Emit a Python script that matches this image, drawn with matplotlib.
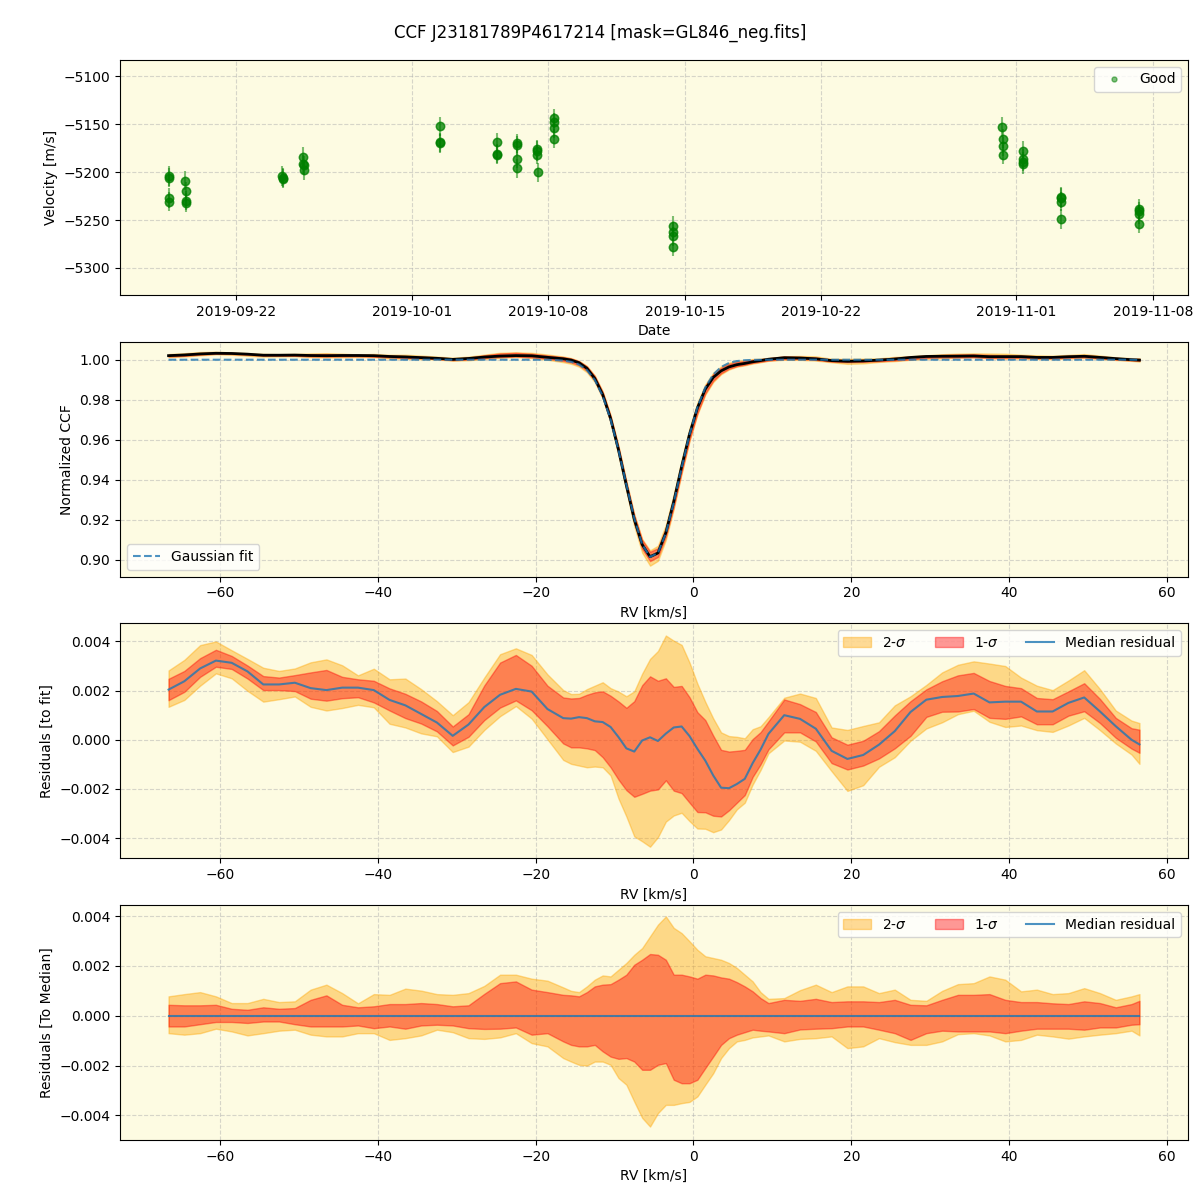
import numpy as np
import pandas as pd
import matplotlib
matplotlib.use("Agg")
import matplotlib.pyplot as plt

# --- RV time series (Good points) ---
obs_time = [
    '2019-09-18 12:30', '2019-09-18 12:40', '2019-09-18 12:50', '2019-09-18 13:00',
    '2019-09-19 09:20', '2019-09-19 09:30', '2019-09-19 09:40', '2019-09-19 09:50',
    '2019-09-24 08:45', '2019-09-24 08:55', '2019-09-24 09:05',
    '2019-09-25 10:20', '2019-09-25 10:30', '2019-09-25 10:40', '2019-09-25 10:50',
    '2019-10-02 10:40', '2019-10-02 10:50', '2019-10-02 11:00',
    '2019-10-05 08:15', '2019-10-05 08:25', '2019-10-05 08:35',
    '2019-10-06 09:00', '2019-10-06 09:10', '2019-10-06 09:20', '2019-10-06 09:30',
    '2019-10-07 10:10', '2019-10-07 10:20', '2019-10-07 10:30', '2019-10-07 10:40',
    '2019-10-08 07:00', '2019-10-08 07:10', '2019-10-08 07:20', '2019-10-08 07:30',
    '2019-10-14 09:00', '2019-10-14 09:10', '2019-10-14 09:20', '2019-10-14 09:30',
    '2019-10-31 06:50', '2019-10-31 07:00', '2019-10-31 07:10', '2019-10-31 07:20',
    '2019-11-01 08:15', '2019-11-01 08:25', '2019-11-01 08:35', '2019-11-01 08:45',
    '2019-11-03 07:00', '2019-11-03 07:10', '2019-11-03 07:20', '2019-11-03 07:30',
    '2019-11-07 07:00', '2019-11-07 07:10', '2019-11-07 07:20', '2019-11-07 07:30',
]
velocity = [
    -5204, -5206, -5227, -5231,
    -5209, -5220, -5230, -5232,
    -5204, -5206, -5207,
    -5184, -5192, -5193, -5198,
    -5152, -5169, -5170,
    -5169, -5181, -5182,
    -5170, -5172, -5186, -5196,
    -5176, -5178, -5182, -5200,
    -5144, -5148, -5154, -5165,
    -5256, -5262, -5267, -5278,
    -5153, -5165, -5173, -5182,
    -5178, -5186, -5189, -5192,
    -5226, -5227, -5231, -5249,
    -5238, -5241, -5244, -5254,
]
vel_err = 10.0

# --- Gaussian fit parameters of the CCF ---
fit_center = -5.24
fit_depth = 0.099
fit_sigma = 3.4

# --- residual grid (km/s) and values (x1e-3) ---
rv = [-66.5, -64.5, -62.5, -60.5, -58.5, -56.5, -54.5, -52.5, -50.5, -48.5,
      -46.5, -44.5, -42.5, -40.5, -38.5, -36.5, -34.5, -32.5, -30.5, -28.5,
      -26.5, -24.5, -22.5, -20.5, -18.5, -16.5, -15.5, -14.5, -13.5, -12.5,
      -11.5, -10.5, -9.5, -8.5, -7.5, -6.5, -5.5, -4.5, -3.5, -2.5,
      -1.5, -0.5, 0.5, 1.5, 2.5, 3.5, 4.5, 5.5, 6.5, 7.5,
      8.5, 9.5, 11.5, 13.5, 15.5, 17.5, 19.5, 21.5, 23.5, 25.5,
      27.5, 29.5, 31.5, 33.5, 35.5, 37.5, 39.5, 41.5, 43.5, 45.5,
      47.5, 49.5, 51.5, 53.5, 55.5, 56.5]
median_res = [2.04, 2.38, 2.90, 3.22, 3.13, 2.78, 2.25, 2.25, 2.32, 2.10,
              2.02, 2.12, 2.12, 2.02, 1.62, 1.40, 1.05, 0.70, 0.16, 0.62,
              1.33, 1.83, 2.07, 1.96, 1.25, 0.88, 0.86, 0.92, 0.88, 0.75,
              0.72, 0.52, 0.11, -0.35, -0.48, -0.03, 0.10, -0.05, 0.25, 0.50,
              0.54, 0.15, -0.37, -0.85, -1.45, -1.95, -1.97, -1.80, -1.59, -0.95,
              -0.40, 0.24, 1.00, 0.85, 0.45, -0.45, -0.78, -0.62, -0.20, 0.35,
              1.13, 1.63, 1.74, 1.78, 1.88, 1.52, 1.55, 1.55, 1.15, 1.15,
              1.50, 1.72, 1.15, 0.55, 0.00, -0.19]
up_2sig = [0.78, 0.87, 0.95, 0.78, 0.51, 0.51, 0.68, 0.55, 0.58, 1.05,
           1.25, 0.91, 0.50, 0.87, 0.84, 1.09, 1.01, 0.87, 0.84, 0.91,
           1.20, 1.65, 1.65, 1.49, 1.41, 1.14, 1.00, 0.95, 1.18, 1.45,
           1.62, 1.58, 1.85, 2.12, 2.45, 2.72, 3.19, 3.66, 3.99, 3.53,
           3.32, 2.99, 2.65, 2.39, 2.32, 2.25, 2.12, 1.92, 1.65, 1.38,
           0.95, 0.68, 0.71, 1.03, 1.25, 0.95, 1.18, 1.18, 0.91, 1.05,
           0.64, 0.60, 1.00, 1.27, 1.31, 1.58, 1.45, 0.98, 1.05, 0.87,
           0.91, 1.11, 0.91, 0.64, 0.78, 0.87]
up_1sig = [0.44, 0.42, 0.42, 0.44, 0.28, 0.24, 0.34, 0.28, 0.31, 0.64,
           0.82, 0.44, 0.34, 0.38, 0.47, 0.47, 0.51, 0.47, 0.38, 0.42,
           0.88, 1.31, 1.38, 1.05, 0.95, 0.84, 0.82, 0.78, 0.95, 1.18,
           1.25, 1.27, 1.45, 1.65, 2.05, 2.25, 2.48, 2.45, 2.25, 1.65,
           1.65, 1.58, 1.49, 1.65, 1.62, 1.54, 1.49, 1.35, 1.18, 0.98,
           0.71, 0.51, 0.64, 0.60, 0.68, 0.55, 0.58, 0.58, 0.55, 0.64,
           0.44, 0.42, 0.64, 0.84, 0.84, 0.87, 0.64, 0.55, 0.55, 0.50,
           0.47, 0.58, 0.51, 0.34, 0.47, 0.60]
lo_1sig = [-0.43, -0.43, -0.34, -0.25, -0.25, -0.29, -0.23, -0.23, -0.34, -0.43,
           -0.43, -0.43, -0.39, -0.50, -0.43, -0.52, -0.39, -0.36, -0.39, -0.50,
           -0.53, -0.52, -0.47, -0.76, -0.70, -1.03, -1.17, -1.23, -1.23, -1.17,
           -1.43, -1.64, -1.73, -1.70, -1.84, -2.17, -2.17, -1.97, -1.90, -2.57,
           -2.71, -2.71, -2.57, -2.10, -1.64, -1.17, -0.90, -0.76, -0.66, -0.56,
           -0.60, -0.63, -0.70, -0.55, -0.52, -0.50, -0.43, -0.43, -0.56, -0.70,
           -0.97, -0.70, -0.60, -0.63, -0.63, -0.63, -0.70, -0.60, -0.52, -0.52,
           -0.52, -0.56, -0.47, -0.47, -0.36, -0.34]
lo_2sig = [-0.70, -0.76, -0.70, -0.52, -0.63, -0.79, -0.70, -0.60, -0.56, -0.76,
           -0.83, -0.83, -0.70, -0.70, -0.97, -0.90, -0.79, -0.56, -0.66, -0.90,
           -0.93, -0.87, -0.70, -1.10, -1.23, -1.70, -1.84, -1.97, -2.00, -1.84,
           -1.84, -1.97, -2.50, -2.77, -3.45, -4.10, -4.45, -3.91, -3.58, -3.58,
           -3.51, -3.46, -3.24, -2.77, -2.31, -1.70, -1.30, -1.03, -0.97, -0.87,
           -0.83, -0.79, -1.03, -0.93, -0.90, -0.83, -1.30, -1.23, -0.90, -1.06,
           -1.17, -1.17, -1.03, -0.74, -0.70, -0.79, -1.03, -0.97, -0.76, -0.83,
           -0.92, -0.83, -0.76, -0.70, -0.60, -0.79]

bg = '#fdfbe2'

t = pd.to_datetime(obs_time)
x = np.array(rv)
med = np.array(median_res) * 1e-3
u2 = np.array(up_2sig) * 1e-3
u1 = np.array(up_1sig) * 1e-3
l1 = np.array(lo_1sig) * 1e-3
l2 = np.array(lo_2sig) * 1e-3
gauss = 1.0 - fit_depth * np.exp(-0.5 * ((x - fit_center) / fit_sigma) ** 2)

fig, axes = plt.subplots(4, 1, figsize=(12, 12), dpi=100)
plt.subplots_adjust(left=0.1, right=0.99, top=0.95, bottom=0.05, hspace=0.2)
fig.suptitle("CCF J23181789P4617214 [mask=GL846_neg.fits]", fontsize=12, y=0.98)

for ax in axes:
    ax.set_facecolor(bg)
    ax.grid(True, linestyle='--', alpha=0.5)
    ax.set_axisbelow(True)

# panel 1
ax = axes[0]
ax.errorbar(t, velocity, yerr=vel_err, fmt='o', color='green', alpha=0.5, ms=6)
ax.plot(t, velocity, 'o', color='green', alpha=0.5, ms=6, label='Good', linestyle='none')
ax.set_ylim(-5328, -5083)
ax.set_xlabel("Date")
ax.set_ylabel("Velocity [m/s]")
ax.legend(loc='upper right', markerscale=0.6)

# panel 2
ax = axes[1]
ccf = gauss + med
ax.fill_between(x, ccf + l2, ccf + u2, color='orange', alpha=0.4)
ax.fill_between(x, ccf + l1, ccf + u1, color='red', alpha=0.4)
ax.plot(x, ccf, color='black', lw=2)
ax.plot(x, gauss, '--', color='C0', alpha=0.8, lw=1.5, label='Gaussian fit')
ax.set_ylim(0.8915, 1.009)
ax.set_xlabel("RV [km/s]")
ax.set_ylabel("Normalized CCF")
ax.legend(loc='lower left')

# panel 3
ax = axes[2]
ax.fill_between(x, med + l2, med + u2, color='orange', alpha=0.4, label=r'2-$\sigma$')
ax.fill_between(x, med + l1, med + u1, color='red', alpha=0.4, label=r'1-$\sigma$')
ax.plot(x, med, color='C0', alpha=0.8, lw=1.5, label='Median residual')
ax.set_ylim(-0.00482, 0.00473)
ax.set_xlabel("RV [km/s]")
ax.set_ylabel("Residuals [to fit]")
ax.legend(loc='upper right', ncol=3)

# panel 4
ax = axes[3]
ax.fill_between(x, l2, u2, color='orange', alpha=0.4, label=r'2-$\sigma$')
ax.fill_between(x, l1, u1, color='red', alpha=0.4, label=r'1-$\sigma$')
ax.plot(x, np.zeros_like(x), color='C0', alpha=0.8, lw=1.5, label='Median residual')
ax.set_ylim(-0.00499, 0.00444)
ax.set_xlabel("RV [km/s]")
ax.set_ylabel("Residuals [To Median]")
ax.legend(loc='upper right', ncol=3)

for ax in axes[1:]:
    ax.set_xlim(-72.65, 62.65)

fig.savefig("out.png", dpi=100)
